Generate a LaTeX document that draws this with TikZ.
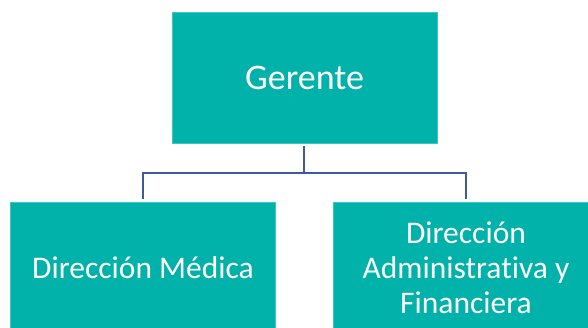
\documentclass[tikz,border=0pt]{standalone}
\usepackage{fontspec}
\setmainfont{Carlito}[Ligatures=CommonOff]
\definecolor{tealbox}{RGB}{0,178,169}
\definecolor{tealedge}{RGB}{60,200,190}
\definecolor{connblue}{RGB}{62,90,156}
\begin{document}
\begin{tikzpicture}[x=1pt,y=-1pt,
  orgbox/.style={rectangle, fill=tealbox, draw=tealedge, line width=0.6pt,
    minimum width=265pt, minimum height=131pt, inner sep=0pt,
    text=white, align=center},
  conn/.style={draw=connblue, line width=2.5pt}]
\useasboundingbox (0,0) rectangle (588,327);
\clip (0,0) rectangle (588,327);
\node[orgbox, font=\fontsize{36}{40}\selectfont] (g) at (304.5,77.5) {Gerente};
\node[orgbox, font=\fontsize{31.5}{35}\selectfont] (l) at (143,267.5) {Dirección Médica};
\node[orgbox, font=\fontsize{31.5}{35}\selectfont] (r) at (466,267.5) {Dirección\\Administrativa y\\Financiera};
\coordinate (bar) at (304,173);
\draw[conn, shorten <=3pt] (g.south -| bar) -- (bar);
\draw[conn, shorten >=3pt] (bar) -| (l.north);
\draw[conn, shorten >=3pt] (bar) -| (r.north);
\end{tikzpicture}
\end{document}
